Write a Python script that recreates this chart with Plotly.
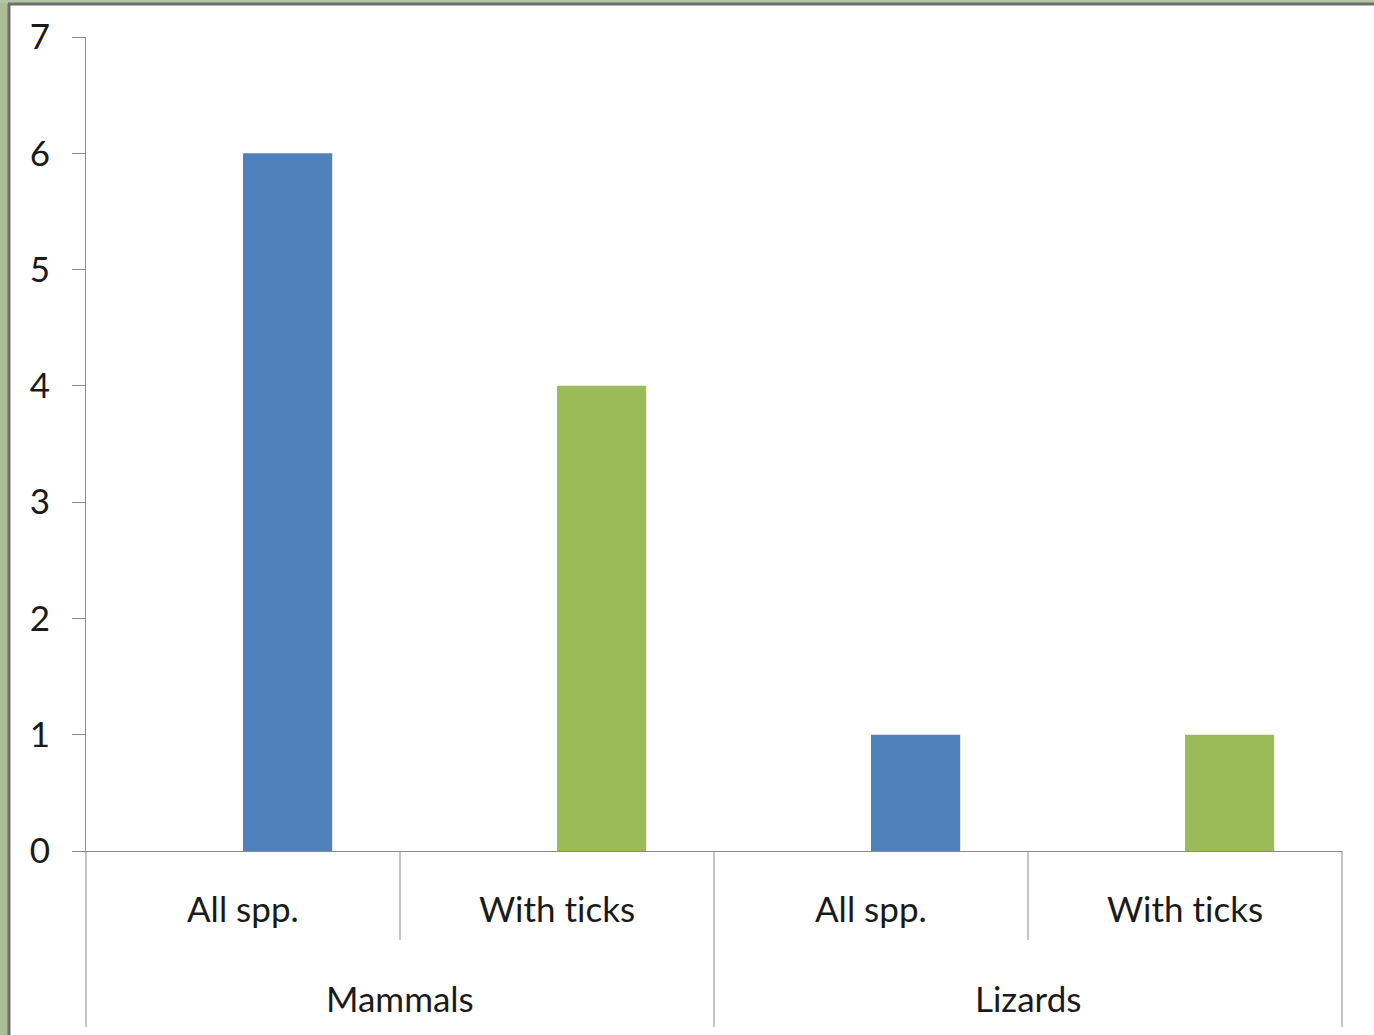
import plotly.graph_objects as go

# Data
groups = ["Mammals", "Mammals", "Lizards", "Lizards"]
subgroups = ["All spp.", "With ticks", "All spp.", "With ticks"]
group_names = ["Mammals", "Lizards"]
all_spp = [6, None, 1, None]
with_ticks = [None, 4, None, 1]
y_ticks = [0, 1, 2, 3, 4, 5, 6, 7]

W, H = 1374, 1035
L, R, T, B = 86, 32, 37, 184
plot_w = W - L - R
plot_h = H - T - B

FONT = "Lato"
TEXT = "#1a1a1a"
AXIS_GRAY = "#8a8a8a"

fig = go.Figure()
fig.add_trace(go.Bar(x=[groups, subgroups], y=all_spp, name="All spp.",
                     marker=dict(color="#4F81BD", line=dict(width=0)),
                     width=0.284, offset=0))
fig.add_trace(go.Bar(x=[groups, subgroups], y=with_ticks, name="With ticks",
                     marker=dict(color="#9BBB59", line=dict(width=0)),
                     width=0.284, offset=0))


def px_x(px):
    return (px - L) / plot_w


def px_y(py):
    return (H - B - py) / plot_h


def no_lig(s):
    # keep Lato from joining "t" and "i" into a ligature
    return s.replace("ti", "t\u200ci")


shapes = []
# photo-like frame strips around the white panel
shapes.append(dict(type="rect", xref="paper", yref="paper",
                   x0=px_x(0), x1=px_x(8), y0=px_y(H), y1=px_y(0),
                   fillcolor="#a9bd96", line=dict(width=0), layer="below"))
shapes.append(dict(type="rect", xref="paper", yref="paper",
                   x0=px_x(0), x1=px_x(W), y0=px_y(3), y1=px_y(0),
                   fillcolor="#b5c4a5", line=dict(width=0), layer="below"))
shapes.append(dict(type="line", xref="paper", yref="paper",
                   x0=px_x(9), x1=px_x(9), y0=px_y(H), y1=px_y(4),
                   line=dict(color="#6e6e6e", width=3)))
shapes.append(dict(type="line", xref="paper", yref="paper",
                   x0=px_x(8), x1=px_x(W), y0=px_y(4), y1=px_y(4),
                   line=dict(color="#6e6e6e", width=3)))

# category separators below the axis
for xd in [0.25, 0.75]:
    shapes.append(dict(type="line", xref="x domain", yref="paper",
                       x0=xd, x1=xd, y0=0, y1=px_y(940),
                       line=dict(color=AXIS_GRAY, width=1)))
for xd in [0.0, 0.5, 1.0]:
    shapes.append(dict(type="line", xref="x domain", yref="paper",
                       x0=xd, x1=xd, y0=0, y1=px_y(1027),
                       line=dict(color=AXIS_GRAY, width=1)))

annotations = []
for i, s in enumerate(subgroups):
    annotations.append(dict(x=(i + 0.5) / len(subgroups), xref="x domain",
                            y=px_y(908), yref="paper",
                            text=no_lig(s), showarrow=False,
                            xanchor="center", yanchor="middle",
                            font=dict(family=FONT, size=35, color=TEXT)))
for j, g in enumerate(group_names):
    annotations.append(dict(x=(j + 0.5) / len(group_names), xref="x domain",
                            y=px_y(998), yref="paper",
                            text=g, showarrow=False,
                            xanchor="center", yanchor="middle",
                            font=dict(family=FONT, size=35, color=TEXT)))

fig.update_layout(
    width=W, height=H,
    margin=dict(l=L, r=R, t=T, b=B, autoexpand=False),
    paper_bgcolor="white", plot_bgcolor="white",
    showlegend=False, barmode="overlay",
    shapes=shapes, annotations=annotations,
    font=dict(family=FONT, color=TEXT),
)
fig.update_xaxes(type="multicategory", showticklabels=False, ticks="",
                 showline=True, linecolor=AXIS_GRAY, linewidth=1,
                 showgrid=False, zeroline=False, showdividers=False)
fig.update_yaxes(range=[0, 7], tickvals=y_ticks, ticks="outside", ticklen=13,
                 tickcolor=AXIS_GRAY, showline=True, linecolor=AXIS_GRAY, linewidth=1,
                 showgrid=False, zeroline=False, ticklabelstandoff=15,
                 tickfont=dict(family=FONT, size=35, color=TEXT))

fig.write_html("out.html")
